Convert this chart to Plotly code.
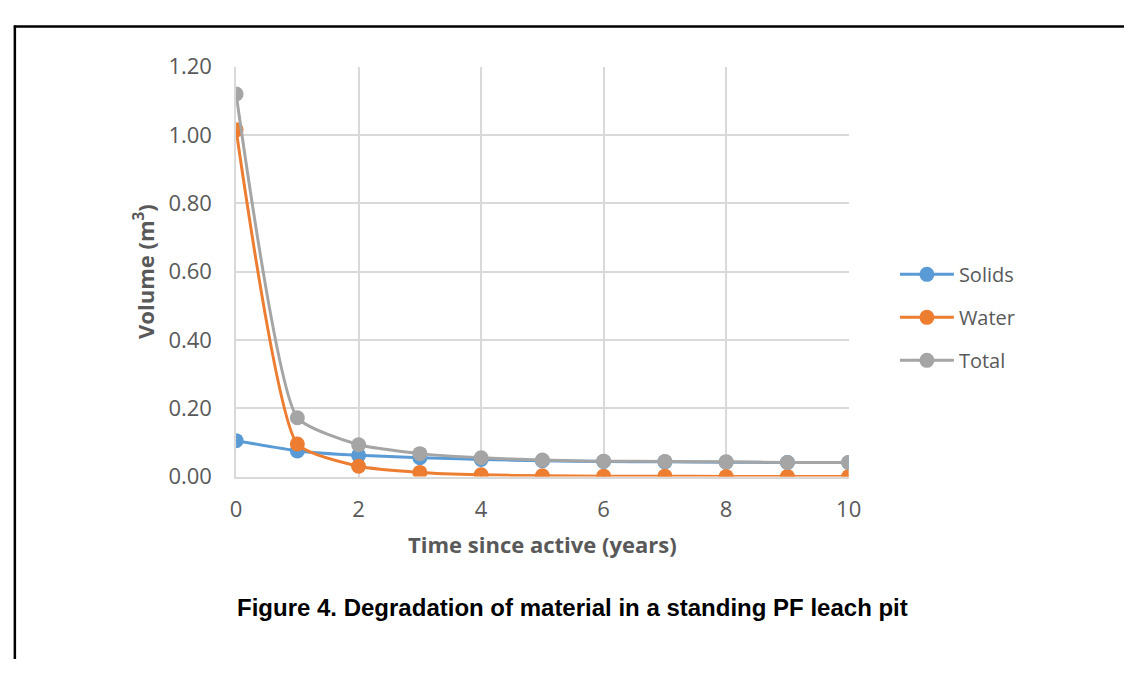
import plotly.graph_objects as go

years = [0, 1, 2, 3, 4, 5, 6, 7, 8, 9, 10]
solids = [0.105, 0.075, 0.062, 0.055, 0.050, 0.046, 0.044, 0.043, 0.042, 0.041, 0.041]
water = [1.015, 0.095, 0.030, 0.012, 0.005, 0.002, 0.001, 0.001, 0.000, 0.000, 0.000]
total = [1.120, 0.172, 0.093, 0.067, 0.055, 0.048, 0.045, 0.044, 0.043, 0.041, 0.041]

series = [("Solids", solids, "#5B9BD5"), ("Water", water, "#ED7D31"), ("Total", total, "#A5A5A5")]

W, H = 1137, 673
def px(x):
    return x / W
def py(y):
    return 1 - y / H

fig = go.Figure()
for name, vals, col in series:
    fig.add_trace(go.Scatter(
        x=years, y=vals, name=name, legendgroup=name, mode="lines+markers",
        line=dict(color=col, width=3, shape="spline", smoothing=0.5),
        marker=dict(color=col, size=15),
    ))

font_main = "'Open Sans', sans-serif"
gray = "#595959"
clear = "rgba(0,0,0,0)"

fig.update_layout(
    width=W, height=H,
    margin=dict(l=0, r=0, t=0, b=0),
    paper_bgcolor="white", plot_bgcolor="white",
    font=dict(family=font_main, color=gray, size=20),
    xaxis=dict(
        domain=[px(234), px(857)], range=[0, 10], tickvals=[0, 2, 4, 6, 8, 10],
        showgrid=True, gridcolor="#d9d9d9", gridwidth=1.5, zeroline=False,
        showline=True, linecolor="#d9d9d9", linewidth=1.5,
        ticks="outside", ticklen=12, tickcolor=clear, tickfont=dict(size=22, color=gray),
        title=dict(text="<b>Time since active (years)</b>", font=dict(size=22, color=gray), standoff=16),
    ),
    yaxis=dict(
        domain=[py(482), py(53)], range=[0, 1.2], tickvals=[0, 0.2, 0.4, 0.6, 0.8, 1.0, 1.2],
        tickformat=".2f",
        showgrid=True, gridcolor="#d9d9d9", gridwidth=1.5, zeroline=False,
        showline=True, linecolor="#d9d9d9", linewidth=1.5,
        ticks="outside", ticklen=18, tickcolor=clear, tickfont=dict(size=22, color=gray),
        title=dict(text="<b>Volume (m<sup>3</sup>)</b>", font=dict(size=22, color=gray), standoff=8),
    ),
    legend=dict(
        x=px(904), y=py(250), xanchor="left", yanchor="top",
        font=dict(size=20, color=gray), tracegroupgap=14, itemwidth=54,
        bgcolor=clear,
    ),
    showlegend=True,
    shapes=[
        dict(type="line", xref="paper", yref="paper", x0=px(8), x1=px(1137), y0=py(11), y1=py(11),
             line=dict(color="black", width=2.5)),
        dict(type="line", xref="paper", yref="paper", x0=px(9), x1=px(9), y0=py(10), y1=py(673),
             line=dict(color="black", width=2.5)),
    ],
    annotations=[
        dict(text="<b>Figure 4. Degradation of material in a standing PF leach pit</b>",
             xref="paper", yref="paper", x=px(576), y=py(619), showarrow=False,
             xanchor="center", yanchor="middle",
             font=dict(family="'Liberation Sans', Arial, sans-serif", size=24, color="black")),
    ],
)

fig.write_html("out.html",
               post_script="document.body.style.margin='0px';document.body.style.overflow='hidden';",
               config={"displayModeBar": False})
